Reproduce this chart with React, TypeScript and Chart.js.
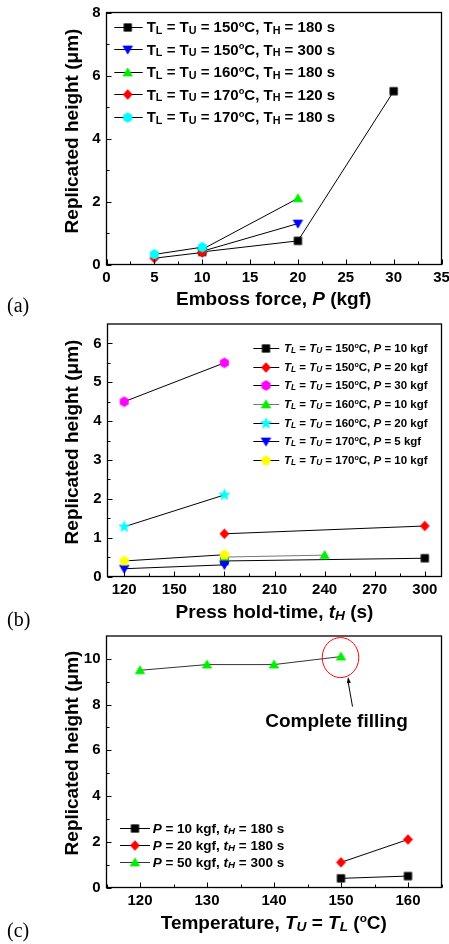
import React, { useEffect, useRef } from "react";
import { Chart, registerables } from "chart.js";
Chart.register(...registerables);

const W = 449;
const H = 944;
const FONT = "'Liberation Sans', Arial, Helvetica, sans-serif";
const SERIF = "'Liberation Serif', 'Times New Roman', serif";

// ---------- Panel (a): Emboss force ----------
const aXTicks = [0, 5, 10, 15, 20, 25, 30, 35];
const aXMinor = [2.5, 7.5, 12.5, 17.5, 22.5, 27.5, 32.5];
const aYTicks = [0, 2, 4, 6, 8];
const aYMinor = [1, 3, 5, 7];
const aS1X = [10, 20, 30];
const aS1Y = [0.4, 0.75, 5.5];
const aS2X = [10, 20];
const aS2Y = [0.42, 1.3];
const aS3X = [10, 20];
const aS3Y = [0.48, 2.1];
const aS4X = [5, 10];
const aS4Y = [0.2, 0.38];
const aS5X = [5, 10];
const aS5Y = [0.32, 0.55];
const aLegendTemps = ["150", "150", "160", "170", "170"];
const aLegendTimes = ["180", "300", "180", "120", "180"];

// ---------- Panel (b): Press hold-time ----------
const bXTicks = [120, 150, 180, 210, 240, 270, 300];
const bXMinor = [135, 165, 195, 225, 255, 285];
const bYTicks = [0, 1, 2, 3, 4, 5, 6];
const bYMinor = [0.5, 1.5, 2.5, 3.5, 4.5, 5.5];
const bS1X = [180, 300];
const bS1Y = [0.4, 0.47];
const bS2X = [180, 300];
const bS2Y = [1.1, 1.3];
const bS3X = [120, 180];
const bS3Y = [4.5, 5.5];
const bS4X = [180, 240];
const bS4Y = [0.5, 0.55];
const bS5X = [120, 180];
const bS5Y = [1.28, 2.1];
const bS6X = [120, 180];
const bS6Y = [0.2, 0.3];
const bS7X = [120, 180];
const bS7Y = [0.4, 0.56];
const bLegendTemps = ["150", "150", "150", "160", "160", "170", "170"];
const bLegendP = ["10", "20", "30", "10", "20", "5", "10"];

// ---------- Panel (c): Temperature ----------
const cXTicks = [120, 130, 140, 150, 160];
const cXMinor = [115, 125, 135, 145, 155, 165];
const cYTicks = [0, 2, 4, 6, 8, 10];
const cYMinor = [1, 3, 5, 7, 9];
const cS1X = [150, 160];
const cS1Y = [0.4, 0.5];
const cS2X = [150, 160];
const cS2Y = [1.1, 2.1];
const cS3X = [120, 130, 140, 150];
const cS3Y = [9.5, 9.75, 9.75, 10.1];
const cLegendP = ["10", "20", "50"];
const cLegendT = ["180", "180", "300"];

type Seg = { t: string; i?: boolean; sub?: boolean; sup?: boolean };

const aRow = (temp: string, time: string): Seg[] => [
  { t: "T" }, { t: "L", sub: true }, { t: " = T" }, { t: "U", sub: true },
  { t: " = " + temp }, { t: "o", sup: true }, { t: "C, T" }, { t: "H", sub: true },
  { t: " = " + time + " s" },
];
const bRow = (temp: string, p: string): Seg[] => [
  { t: "T", i: true }, { t: "L", i: true, sub: true }, { t: " = " },
  { t: "T", i: true }, { t: "U", i: true, sub: true }, { t: " = " + temp },
  { t: "o", sup: true }, { t: "C, " }, { t: "P", i: true }, { t: " = " + p + " kgf" },
];
const cRow = (p: string, t: string): Seg[] => [
  { t: "P", i: true }, { t: " = " + p + " kgf, " }, { t: "t", i: true },
  { t: "H", i: true, sub: true }, { t: " = " + t + " s" },
];

function segFont(s: Seg, size: number) {
  const fs = s.sub ? size * 0.72 : s.sup ? size * 0.62 : size;
  return `${s.i ? "italic " : ""}bold ${fs}px ${FONT}`;
}

function drawRich(ctx: CanvasRenderingContext2D, segs: Seg[], x: number, y: number, size: number, align: "left" | "center") {
  ctx.textAlign = "left";
  ctx.textBaseline = "alphabetic";
  const widths = segs.map((s) => {
    ctx.font = segFont(s, size);
    return ctx.measureText(s.t).width;
  });
  const total = widths.reduce((a, b) => a + b, 0);
  let cx = align === "center" ? x - total / 2 : x;
  segs.forEach((s, k) => {
    ctx.font = segFont(s, size);
    const dy = s.sub ? size * 0.1 : s.sup ? -size * 0.36 : 0;
    ctx.fillText(s.t, cx, y + dy);
    cx += widths[k];
  });
}

const markerCache: Record<string, HTMLCanvasElement> = {};
function marker(shape: string, color: string): HTMLCanvasElement {
  const key = shape + color;
  if (markerCache[key]) return markerCache[key];
  const c = document.createElement("canvas");
  c.width = 13;
  c.height = 13;
  const g = c.getContext("2d")!;
  g.fillStyle = color;
  g.strokeStyle = color;
  g.lineWidth = 0.6;
  g.translate(6.5, 6.5);
  g.beginPath();
  const poly = (n: number, r: number, off: number) => {
    for (let k = 0; k < n; k++) {
      const a = -Math.PI / 2 + off + (k * 2 * Math.PI) / n;
      const px = Math.cos(a) * r;
      const py = Math.sin(a) * r;
      if (k === 0) g.moveTo(px, py);
      else g.lineTo(px, py);
    }
    g.closePath();
  };
  switch (shape) {
    case "square":
      g.rect(-3.8, -3.8, 7.6, 7.6);
      break;
    case "triUp":
      g.moveTo(0, -4.7);
      g.lineTo(4.8, 3.6);
      g.lineTo(-4.8, 3.6);
      g.closePath();
      break;
    case "triDown":
      g.moveTo(0, 4.7);
      g.lineTo(4.8, -3.6);
      g.lineTo(-4.8, -3.6);
      g.closePath();
      break;
    case "diamond":
      g.moveTo(0, -4.9);
      g.lineTo(4.6, 0);
      g.lineTo(0, 4.9);
      g.lineTo(-4.6, 0);
      g.closePath();
      break;
    case "hex":
      poly(6, 4.9, 0);
      break;
    case "pent":
      poly(5, 5.1, 0);
      break;
    case "star":
      for (let k = 0; k < 10; k++) {
        const a = -Math.PI / 2 + (k * Math.PI) / 5;
        const r = k % 2 === 0 ? 5.8 : 2.5;
        const px = Math.cos(a) * r;
        const py = Math.sin(a) * r;
        if (k === 0) g.moveTo(px, py);
        else g.lineTo(px, py);
      }
      g.closePath();
      break;
  }
  g.fill();
  g.stroke();
  markerCache[key] = c;
  return c;
}

type Series = { xs: number[]; ys: number[]; color: string; line: string; shape: string };
type Panel = {
  id: string;
  area: { l: number; t: number; r: number; b: number };
  xMin: number; xMax: number; xTicks: number[]; xMinor: number[];
  yMin: number; yMax: number; yTicks: number[]; yMinor: number[];
  series: Series[];
  legendRows: Seg[][];
  legend: { x0: number; x1: number; mx: number; tx: number; ys: number[]; size: number };
  xTitle: Seg[]; xTitlePos: [number, number];
  yTitlePos: [number, number];
  label: string; labelPos: [number, number];
  extra?: (chart: any) => void;
};

const panels: Panel[] = [
  {
    id: "a",
    area: { l: 106.5, t: 12.5, r: 441.5, b: 264.5 },
    xMin: 0, xMax: 35, xTicks: aXTicks, xMinor: aXMinor,
    yMin: 0, yMax: 8, yTicks: aYTicks, yMinor: aYMinor,
    series: [
      { xs: aS1X, ys: aS1Y, color: "#000000", line: "#000", shape: "square" },
      { xs: aS2X, ys: aS2Y, color: "#0000ff", line: "#000", shape: "triDown" },
      { xs: aS3X, ys: aS3Y, color: "#00ee00", line: "#000", shape: "triUp" },
      { xs: aS4X, ys: aS4Y, color: "#ff0000", line: "#000", shape: "diamond" },
      { xs: aS5X, ys: aS5Y, color: "#00ffff", line: "#000", shape: "hex" },
    ],
    legendRows: aLegendTemps.map((t, k) => aRow(t, aLegendTimes[k])),
    legend: { x0: 114.3, x1: 142.7, mx: 127.7, tx: 146.7, ys: [26.7, 49.3, 71.7, 94.3, 116.7], size: 15 },
    xTitle: [{ t: "Emboss force, " }, { t: "P", i: true }, { t: " (kgf)" }],
    xTitlePos: [273.7, 305],
    yTitlePos: [78, 131],
    label: "(a)", labelPos: [7, 312],
  },
  {
    id: "b",
    area: { l: 107.5, t: 324, r: 441.5, b: 576.5 },
    xMin: 110, xMax: 310, xTicks: bXTicks, xMinor: bXMinor,
    yMin: 0, yMax: 6.5, yTicks: bYTicks, yMinor: bYMinor,
    series: [
      { xs: bS1X, ys: bS1Y, color: "#000000", line: "#000", shape: "square" },
      { xs: bS2X, ys: bS2Y, color: "#ff0000", line: "#000", shape: "diamond" },
      { xs: bS3X, ys: bS3Y, color: "#ff00ff", line: "#000", shape: "hex" },
      { xs: bS4X, ys: bS4Y, color: "#00ee00", line: "#777", shape: "triUp" },
      { xs: bS5X, ys: bS5Y, color: "#00ffff", line: "#000", shape: "star" },
      { xs: bS6X, ys: bS6Y, color: "#0000ff", line: "#000", shape: "triDown" },
      { xs: bS7X, ys: bS7Y, color: "#ffff00", line: "#000", shape: "pent" },
    ],
    legendRows: bLegendTemps.map((t, k) => bRow(t, bLegendP[k])),
    legend: { x0: 253.3, x1: 279.3, mx: 266, tx: 284, ys: [347.7, 366.7, 385, 403.7, 422.7, 441, 459.7], size: 11.5 },
    xTitle: [{ t: "Press hold-time, " }, { t: "t", i: true }, { t: "H", i: true, sub: true }, { t: " (s)" }],
    xTitlePos: [274.5, 618],
    yTitlePos: [78, 442],
    label: "(b)", labelPos: [7, 626],
  },
  {
    id: "c",
    area: { l: 106.5, t: 636, r: 441.5, b: 887.5 },
    xMin: 115, xMax: 165, xTicks: cXTicks, xMinor: cXMinor,
    yMin: 0, yMax: 11, yTicks: cYTicks, yMinor: cYMinor,
    series: [
      { xs: cS1X, ys: cS1Y, color: "#000000", line: "#000", shape: "square" },
      { xs: cS2X, ys: cS2Y, color: "#ff0000", line: "#000", shape: "diamond" },
      { xs: cS3X, ys: cS3Y, color: "#00ee00", line: "#333", shape: "triUp" },
    ],
    legendRows: cLegendP.map((p, k) => cRow(p, cLegendT[k])),
    legend: { x0: 120, x1: 150, mx: 135, tx: 152.7, ys: [827.7, 845, 861.7], size: 13.5 },
    xTitle: [
      { t: "Temperature, " }, { t: "T", i: true }, { t: "U", i: true, sub: true },
      { t: " = " }, { t: "T", i: true }, { t: "L", i: true, sub: true }, { t: " (" },
      { t: "o", sup: true }, { t: "C)" },
    ],
    xTitlePos: [273.8, 929],
    yTitlePos: [78, 753],
    label: "(c)", labelPos: [7, 937],
    extra: (chart: any) => {
      const ctx: CanvasRenderingContext2D = chart.ctx;
      const cx = chart.scales.x.getPixelForValue(cS3X[3]);
      const cy = chart.scales.y.getPixelForValue(cS3Y[3]);
      ctx.strokeStyle = "#ff0000";
      ctx.lineWidth = 1;
      ctx.beginPath();
      ctx.ellipse(cx - 0.5, cy + 1, 18.3, 20, 0, 0, Math.PI * 2);
      ctx.stroke();
      // arrow
      const x0 = cx + 11.5, y0 = cy + 50;
      const x1 = cx + 7, y1 = cy + 20.5;
      ctx.strokeStyle = "#000";
      ctx.beginPath();
      ctx.moveTo(x0, y0);
      ctx.lineTo(x1, y1 + 4);
      ctx.stroke();
      const ang = Math.atan2(y1 - y0, x1 - x0);
      ctx.fillStyle = "#000";
      ctx.beginPath();
      ctx.moveTo(x1, y1);
      ctx.lineTo(x1 - 6 * Math.cos(ang) + 2 * Math.sin(ang), y1 - 6 * Math.sin(ang) - 2 * Math.cos(ang));
      ctx.lineTo(x1 - 6 * Math.cos(ang) - 2 * Math.sin(ang), y1 - 6 * Math.sin(ang) + 2 * Math.cos(ang));
      ctx.closePath();
      ctx.fill();
      ctx.fillStyle = "#000";
      drawRich(ctx, [{ t: "Complete filling" }], cx - 4.5, cy + 70.5, 19, "center");
    },
  },
];

function makeChart(canvas: HTMLCanvasElement, p: Panel) {
  const n = p.series.length;
  const datasets = p.series.map((s, k) => ({
    label: p.id + k,
    data: s.xs.map((x, i) => ({ x, y: s.ys[i] })),
    showLine: true,
    borderColor: s.line,
    borderWidth: 1,
    backgroundColor: s.color,
    pointStyle: marker(s.shape, s.color) as any,
    pointRadius: 5,
    pointHoverRadius: 5,
    order: n - k,
    clip: false as any,
  }));

  const decor = {
    id: "decor_" + p.id,
    afterDraw(chart: any) {
      const ctx: CanvasRenderingContext2D = chart.ctx;
      const { left, top, right, bottom } = chart.chartArea;
      const xs = chart.scales.x;
      const ys = chart.scales.y;
      ctx.save();
      ctx.strokeStyle = "#000";
      ctx.lineWidth = 1.3;
      ctx.strokeRect(left, top, right - left, bottom - top);
      ctx.lineWidth = 1;
      ctx.beginPath();
      p.xTicks.forEach((v) => {
        const px = Math.round(xs.getPixelForValue(v)) + 0.5;
        ctx.moveTo(px, bottom);
        ctx.lineTo(px, bottom - 5);
      });
      p.xMinor.forEach((v) => {
        const px = Math.round(xs.getPixelForValue(v)) + 0.5;
        ctx.moveTo(px, bottom);
        ctx.lineTo(px, bottom - 3);
      });
      p.yTicks.forEach((v) => {
        const py = Math.round(ys.getPixelForValue(v)) + 0.5;
        ctx.moveTo(left, py);
        ctx.lineTo(left + 5, py);
      });
      p.yMinor.forEach((v) => {
        const py = Math.round(ys.getPixelForValue(v)) + 0.5;
        ctx.moveTo(left, py);
        ctx.lineTo(left + 3, py);
      });
      ctx.stroke();

      // legend
      const L = p.legend;
      p.legendRows.forEach((segs, k) => {
        const y = L.ys[k];
        const s = p.series[k];
        ctx.strokeStyle = s.line;
        ctx.lineWidth = 1;
        ctx.beginPath();
        ctx.moveTo(L.x0, Math.round(y) + 0.5);
        ctx.lineTo(L.x1, Math.round(y) + 0.5);
        ctx.stroke();
        const m = marker(s.shape, s.color);
        ctx.drawImage(m, L.mx - m.width / 2, Math.round(y) + 0.5 - m.height / 2);
        ctx.fillStyle = "#000";
        drawRich(ctx, segs, L.tx, y + L.size * 0.36, L.size, "left");
      });

      // titles
      ctx.fillStyle = "#000";
      drawRich(ctx, p.xTitle, p.xTitlePos[0], p.xTitlePos[1], 19, "center");
      ctx.save();
      ctx.translate(p.yTitlePos[0], p.yTitlePos[1]);
      ctx.rotate(-Math.PI / 2);
      drawRich(ctx, [{ t: "Replicated height (μm)" }], 0, 0, 19, "center");
      ctx.restore();

      // panel label
      ctx.font = `20px ${SERIF}`;
      ctx.textAlign = "left";
      ctx.textBaseline = "alphabetic";
      ctx.fillStyle = "#000";
      ctx.fillText(p.label, p.labelPos[0], p.labelPos[1]);

      if (p.extra) {
        ctx.save();
        p.extra(chart);
        ctx.restore();
      }
      ctx.restore();
    },
  };

  const tickFont = { family: FONT, size: 15, weight: "bold" as const };

  return new Chart(canvas, {
    type: "scatter",
    data: { datasets: datasets as any },
    plugins: [decor],
    options: {
      animation: false,
      responsive: false,
      devicePixelRatio: 1,
      events: [],
      layout: {
        padding: { left: 0, top: p.area.t, right: W - p.area.r, bottom: H - p.area.b - 40 },
      },
      plugins: {
        legend: { display: false },
        tooltip: { enabled: false },
        title: { display: false },
      },
      scales: {
        x: {
          type: "linear",
          min: p.xMin,
          max: p.xMax,
          grid: { display: false, drawTicks: false, tickLength: 0 },
          border: { display: false },
          ticks: {
            color: "#000",
            font: tickFont,
            padding: 4,
            autoSkip: false,
            maxRotation: 0,
            minRotation: 0,
            callback: (v: any) => String(v),
          },
          afterBuildTicks: (s: any) => {
            s.ticks = p.xTicks.map((v) => ({ value: v }));
          },
          afterFit: (s: any) => {
            s.height = 40;
            s.paddingLeft = 0;
            s.paddingRight = 0;
          },
        },
        y: {
          type: "linear",
          min: p.yMin,
          max: p.yMax,
          grid: { display: false, drawTicks: false, tickLength: 0 },
          border: { display: false },
          ticks: {
            color: "#000",
            font: tickFont,
            padding: 6,
            autoSkip: false,
            callback: (v: any) => String(v),
          },
          afterBuildTicks: (s: any) => {
            s.ticks = p.yTicks.map((v) => ({ value: v }));
          },
          afterFit: (s: any) => {
            s.width = p.area.l;
            s.paddingTop = 0;
            s.paddingBottom = 0;
          },
        },
      },
    },
  });
}

export default function App() {
  const r0 = useRef<HTMLCanvasElement>(null);
  const r1 = useRef<HTMLCanvasElement>(null);
  const r2 = useRef<HTMLCanvasElement>(null);

  useEffect(() => {
    const refs = [r0, r1, r2];
    const charts = panels.map((p, k) => makeChart(refs[k].current!, p));
    return () => charts.forEach((c) => c.destroy());
  }, []);

  const cs: React.CSSProperties = { position: "absolute", left: 0, top: 0, width: W, height: H };
  return (
    <div style={{ position: "absolute", left: 0, top: 0, width: W, height: H, background: "#fff" }}>
      <canvas ref={r0} width={W} height={H} style={cs} />
      <canvas ref={r1} width={W} height={H} style={cs} />
      <canvas ref={r2} width={W} height={H} style={cs} />
    </div>
  );
}
